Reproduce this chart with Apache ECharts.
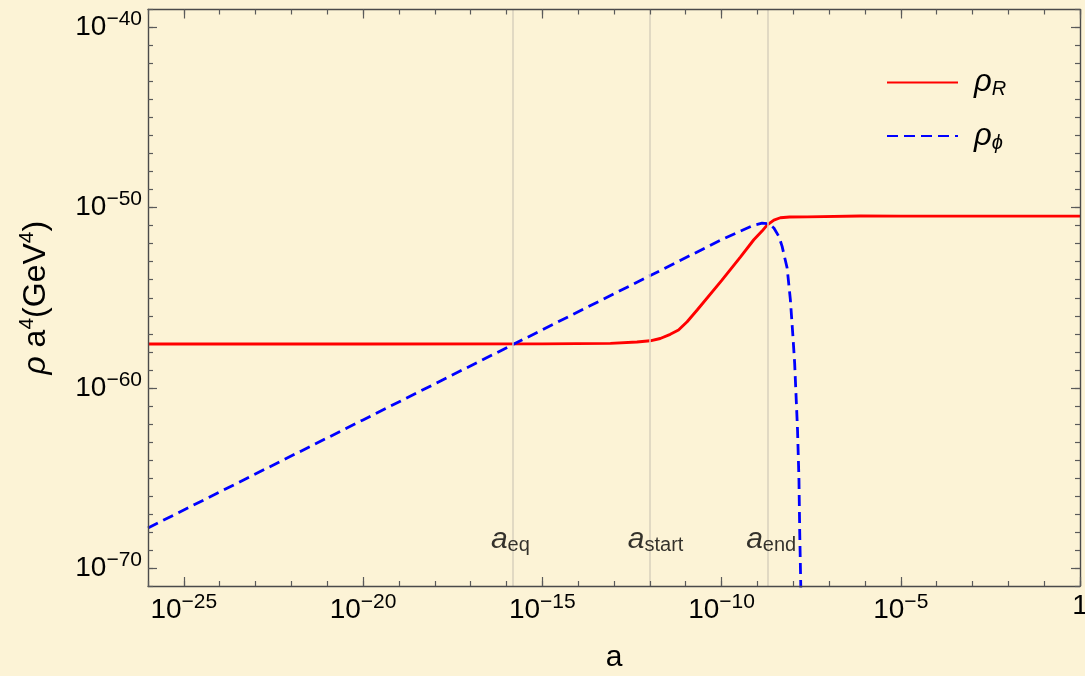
<!DOCTYPE html>
<html><head><meta charset="utf-8">
<script src="https://cdn.jsdelivr.net/npm/echarts@6/dist/echarts.min.js"></script>
<style>html,body{margin:0;padding:0;background:#FCF3D6}#c{width:1085px;height:676px}</style>
</head><body><div id="c"></div><script>
// ---- data (log10 values) ----
const logA_R = [-26, -20, -15, -13.1, -12.36, -11.99, -11.71, -11.43, -11.2, -10.96, -10.68, -10.0, -9.475, -9.1, -8.87, -8.73, -8.54, -8.36, -8.1, -7.61, -6.13, -5, 0];
const logRho_R = [-57.57, -57.57, -57.56, -57.53, -57.46, -57.39, -57.26, -57.03, -56.79, -56.33, -55.68, -54.05, -52.74, -51.78, -51.3, -50.97, -50.69, -50.56, -50.52, -50.51, -50.46, -50.47, -50.47];
const logA_phi = [-26, -20, -15.82, -12, -10, -9.475, -9.1, -8.87, -8.68, -8.54, -8.4, -8.31, -8.24, -8.17, -8.08, -8.01, -7.96, -7.92, -7.88, -7.84, -7.82, -7.79, -7.78];
const logRho_phi = [-67.78, -61.78, -57.6, -53.78, -51.78, -51.3, -50.97, -50.86, -50.9, -51.13, -51.6, -52.15, -52.75, -53.35, -55.1, -57.1, -58.64, -60.49, -62.34, -65.11, -67.89, -70.94, -72.5];
const markerNames = ['eq', 'start', 'end'];
const markerLogA = [-15.82, -12.0, -8.7];
const xTickExps = [-25, -20, -15, -10, -5, 0];
const yTickExps = [-70, -60, -50, -40];
const seriesNames = ['ρR', 'ρφ'];

// ---- layout / style ----
const X_MIN = -26, X_MAX = 0, Y_MIN = -71, Y_MAX = -39;
const FONT = "'Liberation Sans', Arial, sans-serif";
const FRAME = '#4a4a4a', TICK = '#5a5a5a';
const xMinor = [], yMinor = [];
for (let v = X_MIN; v <= X_MAX; v++) xMinor.push(v);
for (let v = Y_MIN; v <= Y_MAX; v++) yMinor.push(v);

const rich = {
  b: {fontSize: 28, fontFamily: FONT, color: '#000'},
  s: {fontSize: 21, fontFamily: FONT, color: '#000', padding: [0, 0, 16, 0]}
};
const fmtExp = v => v === 0 ? '{b|1}' : '{b|10}{s|' + (v < 0 ? '−' : '') + Math.abs(v) + '}';

function mkAxis(kind, gridIndex, position, ticks, len, showLine, labels) {
  const isX = kind === 'x';
  return {
    type: 'value', gridIndex, position,
    min: isX ? X_MIN : Y_MIN, max: isX ? X_MAX : Y_MAX,
    splitLine: {show: false},
    axisLine: {show: showLine, onZero: false, lineStyle: {color: FRAME, width: 1.4}},
    axisTick: {show: true, inside: true, length: len, customValues: ticks, lineStyle: {color: TICK, width: 1.2}},
    axisLabel: labels ? {show: true, customValues: ticks, formatter: fmtExp, rich, margin: 6} : {show: false},
    z: 10
  };
}

const grid = {left: 148, right: 5, top: 9.5, bottom: 90, containLabel: false, outerBoundsMode: 'none'};
const xAxes = [
  Object.assign(mkAxis('x', 0, 'bottom', xTickExps, 9, true, true), {
    name: 'a', nameLocation: 'middle', nameGap: 57,
    nameTextStyle: {fontSize: 30, fontFamily: FONT, color: '#000'}
  }),
  mkAxis('x', 0, 'top', xTickExps, 9, true, false),
  mkAxis('x', 1, 'bottom', xMinor, 5, false, false),
  mkAxis('x', 1, 'top', xMinor, 5, false, false)
];
const yAxes = [
  Object.assign(mkAxis('y', 0, 'left', yTickExps, 9, true, true), {
    name: '{r|ρ}{b| a}{s|4}{b|(GeV}{s|4}{b|)}', nameLocation: 'middle', nameGap: 93, nameRotate: 90,
    nameTextStyle: {rich: {
      r: {fontSize: 32, fontStyle: 'italic', fontFamily: FONT, color: '#000'},
      b: {fontSize: 32, fontFamily: FONT, color: '#000'},
      s: {fontSize: 21, fontFamily: FONT, color: '#000', padding: [0, 0, 17, 0]}
    }}
  }),
  mkAxis('y', 0, 'right', yTickExps, 9, true, false),
  mkAxis('y', 1, 'left', yMinor, 5, false, false),
  mkAxis('y', 1, 'right', yMinor, 5, false, false)
];

const option = {
  backgroundColor: '#FCF3D6',
  animation: false,
  grid: [grid, Object.assign({}, grid)],
  xAxis: xAxes,
  yAxis: yAxes,
  legend: {
    data: seriesNames, orient: 'vertical', left: 886, top: 67, padding: 0,
    itemWidth: 71, itemHeight: 14, itemGap: 21,
    itemStyle: {opacity: 0},
    formatter: n => n === seriesNames[0] ? '{r|ρ}{sub|R}' : '{r|ρ}{sub|ϕ}',
    textStyle: {rich: {
      r: {fontSize: 31, fontStyle: 'italic', fontFamily: FONT, color: '#000', padding: [0, 0, 0, 11]},
      sub: {fontSize: 20, fontStyle: 'italic', fontFamily: FONT, color: '#000', padding: [14, 0, 0, 0]}
    }}
  },
  series: [
    {
      type: 'line', name: 'guides', xAxisIndex: 0, yAxisIndex: 0, data: [], z: 1, silent: true,
      markLine: {
        silent: true, symbol: ['none', 'none'], label: {show: false},
        lineStyle: {color: '#D8D1BD', width: 1.5, type: 'solid'},
        data: markerLogA.map(v => ({xAxis: v}))
      }
    },
    {
      type: 'scatter', name: 'labels', xAxisIndex: 0, yAxisIndex: 0, symbolSize: 0, silent: true, z: 5,
      data: markerLogA.map(v => [v, -68.44]),
      label: {
        show: true, position: 'inside', align: 'left', offset: [-22, 0],
        formatter: p => '{a|a}{e|' + markerNames[p.dataIndex] + '}',
        rich: {
          a: {fontSize: 30, fontStyle: 'italic', fontFamily: FONT, color: '#000'},
          e: {fontSize: 20, fontFamily: FONT, color: '#000', padding: [12, 0, 0, 0]}
        }
      }
    },
    {
      type: 'line', name: seriesNames[0], xAxisIndex: 0, yAxisIndex: 0, z: 3,
      data: logA_R.map((x, i) => [x, logRho_R[i]]),
      symbol: 'none', showSymbol: false, clip: true,
      lineStyle: {color: '#FF0000', width: 2.9}, itemStyle: {color: '#FF0000'}
    },
    {
      type: 'line', name: seriesNames[1], xAxisIndex: 0, yAxisIndex: 0, z: 4,
      data: logA_phi.map((x, i) => [x, logRho_phi[i]]),
      symbol: 'none', showSymbol: false, clip: true,
      lineStyle: {color: '#0000FF', width: 2.8, type: [11, 6]}, itemStyle: {color: '#0000FF'}
    }
  ]
};
const chart = echarts.init(document.getElementById('c'), null, {renderer: 'canvas'});
chart.setOption(option);
</script></body></html>
